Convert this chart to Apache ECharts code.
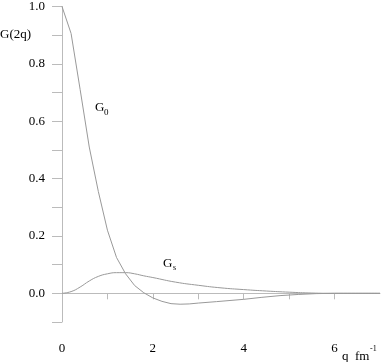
<!DOCTYPE html>
<html>
<head>
<meta charset="utf-8">
<script src="https://cdn.jsdelivr.net/npm/echarts@6/dist/echarts.min.js"></script>
<style>
    html, body { margin: 0; padding: 0; background: #fff; }
    #chart { width: 382px; height: 362px; }
</style>
</head>
<body>
<div id="chart"></div>
<script>
    // values
    var qG0 = [0, 0.2, 0.4, 0.6, 0.8, 1.0, 1.2, 1.4, 1.6, 1.8, 2.0, 2.2, 2.4, 2.6, 2.8, 3.0, 3.4, 4.0, 4.4, 4.8, 5.2, 5.6, 6.0, 7.0]
    var g0 = [1.0, 0.906, 0.71, 0.51, 0.355, 0.22, 0.125, 0.068, 0.027, 0.002, -0.016, -0.028, -0.036, -0.038, -0.037, -0.034, -0.029, -0.021, -0.014, -0.008, -0.004, -0.001, 0, 0]
    var qGs = [0, 0.2, 0.4, 0.6, 0.8, 1.0, 1.2, 1.4, 1.6, 1.8, 2.0, 2.5, 3.0, 3.5, 4.0, 4.5, 5.0, 5.5, 6.0, 7.0]
    var gs = [0, 0.006, 0.022, 0.043, 0.059, 0.068, 0.072, 0.072, 0.068, 0.061, 0.055, 0.039, 0.028, 0.019, 0.013, 0.008, 0.004, 0.001, 0, 0]

    function pairs(xs, ys) {
        return xs.map(function (x, i) { return [x, ys[i]] })
    }

    var font = 'Liberation Serif'
    var lineColor = '#999'
    var axisColor = '#bbb'

    var myChart = echarts.init(document.getElementById('chart'))
    myChart.setOption({
        animation: false,
        grid: {left: 62, right: 2, top: 5, bottom: 40},
        xAxis: {
            type: 'value',
            min: 0,
            max: 7,
            interval: 1,
            splitLine: {show: false},
            axisLine: {lineStyle: {color: axisColor}},
            axisTick: {length: 6, lineStyle: {color: axisColor}},
            axisLabel: {
                color: '#000',
                fontFamily: font,
                fontSize: 13,
                margin: 20,
                showMaxLabel: false,
                formatter: function (v) {
                    return v % 2 === 0 ? String(v) : ''
                }
            }
        },
        yAxis: {
            type: 'value',
            min: -0.1,
            max: 1.0,
            interval: 0.1,
            splitLine: {show: false},
            axisLine: {show: true, lineStyle: {color: axisColor}},
            axisTick: {show: true, length: 10, lineStyle: {color: axisColor}},
            axisLabel: {
                color: '#000',
                fontFamily: font,
                fontSize: 13,
                margin: 17,
                formatter: function (v) {
                    var k = Math.round(v * 10)
                    return (k >= 0 && k % 2 === 0) ? (k / 10).toFixed(1) : ''
                }
            }
        },
        graphic: [
            {type: 'text', left: 0, top: 28, style: {text: 'G(2q)', font: '13px ' + font, fill: '#000'}},
            {type: 'text', left: 95, top: 101, style: {text: 'G', font: '13px ' + font, fill: '#000'}},
            {type: 'text', left: 104, top: 108, style: {text: '0', font: '9px ' + font, fill: '#000'}},
            {type: 'text', left: 163, top: 257, style: {text: 'G', font: '13px ' + font, fill: '#000'}},
            {type: 'text', left: 173, top: 264, style: {text: 's', font: '8px ' + font, fill: '#000'}},
            {type: 'text', left: 342, top: 350, style: {text: 'q  fm', font: '13px ' + font, fill: '#000'}},
            {type: 'text', left: 370, top: 345, style: {text: '-1', font: '8px ' + font, fill: '#000'}}
        ],
        series: [
            {
                name: 'G0',
                type: 'line',
                data: pairs(qG0, g0),
                showSymbol: false,
                smooth: false,
                lineStyle: {color: lineColor, width: 1}
            },
            {
                name: 'Gs',
                type: 'line',
                data: pairs(qGs, gs),
                showSymbol: false,
                smooth: true,
                lineStyle: {color: lineColor, width: 1}
            }
        ]
    })
</script>
</body>
</html>
